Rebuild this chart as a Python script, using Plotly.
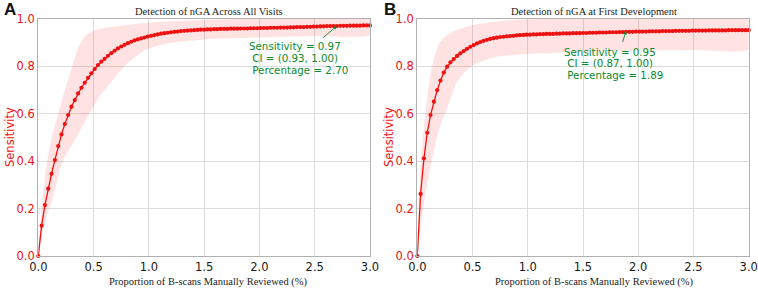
import plotly.graph_objects as go

# ---------------- data ----------------
review_pct = [round(i * 0.03, 2) for i in range(101)]  # x grid 0.00 .. 3.00 (step 0.03)

sens_all_visits = [
    0.000, 0.128, 0.215, 0.284, 0.347, 0.405, 0.464, 0.513, 0.557, 0.595,
    0.630, 0.658, 0.686, 0.710, 0.731, 0.752, 0.771, 0.789, 0.806, 0.820,
    0.832, 0.845, 0.856, 0.866, 0.876, 0.884, 0.891, 0.898, 0.904, 0.910,
    0.914, 0.918, 0.922, 0.926, 0.929, 0.932, 0.935, 0.938, 0.940, 0.942,
    0.944, 0.946, 0.947, 0.949, 0.950, 0.951, 0.952, 0.953, 0.954, 0.955,
    0.955, 0.956, 0.956, 0.957, 0.957, 0.958, 0.958, 0.958, 0.959, 0.959,
    0.959, 0.960, 0.960, 0.960, 0.961, 0.961, 0.961, 0.962, 0.962, 0.962,
    0.963, 0.963, 0.963, 0.964, 0.964, 0.964, 0.965, 0.965, 0.966, 0.966,
    0.966, 0.967, 0.967, 0.968, 0.968, 0.969, 0.969, 0.970, 0.970, 0.970,
    0.970, 0.971, 0.971, 0.971, 0.972, 0.972, 0.972, 0.972, 0.973, 0.973,
    0.973,
]

sens_first_dev = [
    0.000, 0.262, 0.412, 0.520, 0.595, 0.651, 0.700, 0.740, 0.774, 0.799,
    0.817, 0.831, 0.844, 0.855, 0.865, 0.874, 0.883, 0.890, 0.897, 0.903,
    0.908, 0.912, 0.916, 0.919, 0.921, 0.924, 0.925, 0.927, 0.928, 0.929,
    0.931, 0.932, 0.933, 0.934, 0.934, 0.935, 0.935, 0.936, 0.936, 0.937,
    0.937, 0.937, 0.938, 0.938, 0.939, 0.939, 0.939, 0.940, 0.940, 0.940,
    0.941, 0.941, 0.942, 0.942, 0.942, 0.943, 0.943, 0.943, 0.944, 0.944,
    0.944, 0.945, 0.945, 0.946, 0.946, 0.946, 0.947, 0.947, 0.947, 0.947,
    0.948, 0.948, 0.948, 0.948, 0.949, 0.949, 0.949, 0.949, 0.950, 0.950,
    0.950, 0.950, 0.950, 0.951, 0.951, 0.951, 0.951, 0.951, 0.952, 0.952,
    0.952, 0.952, 0.952, 0.952, 0.953, 0.953, 0.953, 0.953, 0.953, 0.953,
    0.953,
]

# confidence band (upper / lower), read at selected x positions
ci_a_upper_x = [0, 0.03, 0.06, 0.09, 0.12, 0.15, 0.18, 0.24, 0.30, 0.36, 0.40, 0.45, 0.51, 0.60, 0.75, 0.90, 1.05, 1.20, 1.50, 1.80, 3.00]
ci_a_upper_y = [0, 0.20, 0.33, 0.43, 0.50, 0.55, 0.60, 0.70, 0.79, 0.88, 0.915, 0.94, 0.953, 0.963, 0.972, 0.980, 0.986, 0.990, 0.996, 1.0, 1.0]
ci_a_lower_x = [0, 0.03, 0.06, 0.09, 0.13, 0.17, 0.22, 0.30, 0.38, 0.46, 0.55, 0.66, 0.80, 0.97, 1.15, 1.30, 1.50, 2.00, 2.50, 3.00]
ci_a_lower_y = [0, 0.08, 0.14, 0.19, 0.24, 0.32, 0.40, 0.465, 0.53, 0.60, 0.67, 0.735, 0.81, 0.87, 0.895, 0.905, 0.914, 0.922, 0.928, 0.932]

ci_b_upper_x = [0, 0.03, 0.06, 0.09, 0.12, 0.167, 0.21, 0.27, 0.36, 0.51, 0.70, 0.875, 1.10, 3.00]
ci_b_upper_y = [0, 0.38, 0.55, 0.67, 0.77, 0.862, 0.905, 0.932, 0.955, 0.975, 0.988, 0.996, 1.0, 1.0]
ci_b_lower_x = [0, 0.03, 0.06, 0.10, 0.15, 0.20, 0.27, 0.36, 0.45, 0.51, 0.60, 0.72, 0.90, 1.12, 1.50, 1.89, 2.50, 3.00]
ci_b_lower_y = [0, 0.12, 0.22, 0.33, 0.44, 0.54, 0.623, 0.735, 0.785, 0.806, 0.825, 0.841, 0.849, 0.855, 0.862, 0.866, 0.869, 0.872]

x_ticks = [0.0, 0.5, 1.0, 1.5, 2.0, 2.5, 3.0]
y_ticks = [0.0, 0.2, 0.4, 0.6, 0.8, 1.0]

titles = ["Detection of nGA Across All Visits", "Detection of nGA at First Development"]
x_label = "Proportion of B-scans Manually Reviewed (%)"
y_label = "Sensitivity"
panel_letters = ["A", "B"]
ann_a = {"x": 2.70, "sens": 0.97, "ci": "(0.93, 1.00)", "pct": "2.70"}
ann_b = {"x": 1.89, "sens": 0.95, "ci": "(0.87, 1.00)", "pct": "1.89"}

# ---------------- figure ----------------
W, H = 758, 289
RED = "#ee1111"
GREEN = "#0a8a2e"
BAND = "rgba(255,0,0,0.11)"
SERIF = "Liberation Serif, Times New Roman, serif"
SANS = "DejaVu Sans, sans-serif"

fig = go.Figure()

panels = [
    dict(xa="x", ya="y", sens=sens_all_visits, ux=ci_a_upper_x, uy=ci_a_upper_y, lx=ci_a_lower_x, ly=ci_a_lower_y),
    dict(xa="x2", ya="y2", sens=sens_first_dev, ux=ci_b_upper_x, uy=ci_b_upper_y, lx=ci_b_lower_x, ly=ci_b_lower_y),
]

for p in panels:
    poly_x = list(p["ux"]) + list(reversed(p["lx"]))
    poly_y = list(p["uy"]) + list(reversed(p["ly"]))
    fig.add_trace(go.Scatter(x=poly_x, y=poly_y, fill="toself", fillcolor=BAND,
                             line=dict(width=0, shape="spline", smoothing=0.6), mode="lines", hoverinfo="skip",
                             showlegend=False, xaxis=p["xa"], yaxis=p["ya"]))
    fig.add_trace(go.Scatter(x=review_pct, y=p["sens"], mode="lines+markers",
                             line=dict(color=RED, width=1.3),
                             marker=dict(color=RED, size=4.2, line=dict(width=0)),
                             cliponaxis=False, showlegend=False,
                             xaxis=p["xa"], yaxis=p["ya"]))

x_domains = [[38.3 / W, 370.0 / W], [417.3 / W, 748.7 / W]]
y_domain = [1 - 256.0 / H, 1 - 19.0 / H]

axis_common = dict(showgrid=True, gridcolor="#dcdcdc", gridwidth=1,
                   showline=True, mirror=True, linecolor="#b0b0b0", linewidth=1.3,
                   ticks="", zeroline=False, automargin=False)

for i, (xk, yk) in enumerate([("xaxis", "yaxis"), ("xaxis2", "yaxis2")]):
    fig.layout[xk] = dict(axis_common, domain=x_domains[i], range=[0, 3.0],
                          tickvals=x_ticks, ticktext=[f"{v:.1f}" for v in x_ticks],
                          tickfont=dict(family=SANS, size=11.5, color="#1a1a1a"),
                          anchor="y" if i == 0 else "y2")
    fig.layout[yk] = dict(axis_common, domain=y_domain, range=[0, 1.0],
                          tickvals=y_ticks, ticktext=[f"{v:.1f}" for v in y_ticks],
                          tickfont=dict(family=SANS, size=11.5, color=RED),
                          anchor="x" if i == 0 else "x2")

annotations = []
title_cx = [208.5, 593.5]
xlab_cx = [208.0, 594.3]
ylab_cx = [10.0, 389.0]
letter_cx = [9.5, 390.0]
for i in range(2):
    annotations.append(dict(text=titles[i], x=title_cx[i] / W, y=1 - 11.0 / H, xref="paper", yref="paper",
                            xanchor="center", yanchor="middle", showarrow=False,
                            font=dict(family=SERIF, size=10.5, color="#222222")))
    annotations.append(dict(text=x_label, x=xlab_cx[i] / W, y=1 - 282.0 / H, xref="paper", yref="paper",
                            xanchor="center", yanchor="middle", showarrow=False,
                            font=dict(family=SERIF, size=10.5, color="#222222")))
    annotations.append(dict(text=y_label, x=ylab_cx[i] / W, y=1 - 137.0 / H, xref="paper", yref="paper",
                            xanchor="center", yanchor="middle", showarrow=False, textangle=-90,
                            font=dict(family=SANS, size=11.5, color=RED)))
    annotations.append(dict(text=f"<b>{panel_letters[i]}</b>", x=letter_cx[i] / W, y=1 - 10.0 / H,
                            xref="paper", yref="paper", xanchor="center", yanchor="middle",
                            showarrow=False, font=dict(family="Liberation Sans, Arial, sans-serif", size=17, color="#111111")))

NB = "\u00a0"
for ann, xa, ya, tx, tys, tail in [
    (ann_a, "x", "y", 1.885, [0.886, 0.834, 0.785], (2.56, 0.915)),
    (ann_b, "x2", "y2", 1.312, [0.862, 0.813, 0.764], (1.855, 0.897)),
]:
    lines = [f"Sensitivity = {ann['sens']:.2f}", f"{NB}CI = {ann['ci']}", f"{NB}Percentage = {ann['pct']}"]
    for line, ty in zip(lines, tys):
        annotations.append(dict(text=line, x=tx, y=ty, xref=xa, yref=ya, xanchor="left", yanchor="middle",
                                showarrow=False, font=dict(family=SANS, size=10.3, color=GREEN)))
    annotations.append(dict(text="", x=ann["x"], y=ann["sens"], xref=xa, yref=ya,
                            ax=tail[0], ay=tail[1], axref=xa, ayref=ya,
                            showarrow=True, arrowhead=2, arrowsize=0.8, arrowwidth=0.9,
                            arrowcolor=GREEN, standoff=0, startstandoff=0))

fig.update_layout(width=W, height=H, margin=dict(l=0, r=0, t=0, b=0, pad=0, autoexpand=False),
                  paper_bgcolor="white", plot_bgcolor="white",
                  annotations=annotations, showlegend=False)

fig.write_html("out.html", config={"displayModeBar": False},
               post_script="document.body.style.margin='0';document.body.style.overflow='hidden';")
